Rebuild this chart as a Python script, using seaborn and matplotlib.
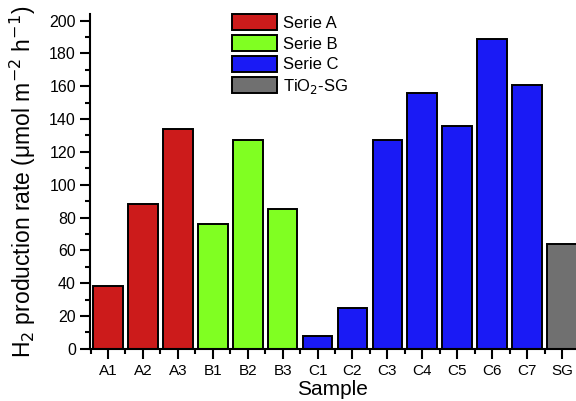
import matplotlib
matplotlib.use("Agg")
import matplotlib.pyplot as plt
import seaborn as sns
import pandas as pd
from matplotlib.ticker import MultipleLocator
from matplotlib.patches import Patch

samples = ["A1", "A2", "A3", "B1", "B2", "B3", "C1", "C2", "C3", "C4", "C5", "C6", "C7", "SG"]
rates = [38, 88, 134, 76, 127, 85, 8, 25, 127, 156, 136, 189, 161, 64]
series = ["Serie A"] * 3 + ["Serie B"] * 3 + ["Serie C"] * 7 + ["TiO$_2$-SG"]
series_names = ["Serie A", "Serie B", "Serie C", "TiO$_2$-SG"]
colors = ["#CC1B1B", "#80FF22", "#1A1AF5", "#707070"]

df = pd.DataFrame({"Sample": samples, "Rate": rates, "Series": series})

sns.set_style("ticks", {"axes.edgecolor": "black", "text.color": "black",
                        "xtick.color": "black", "ytick.color": "black",
                        "axes.labelcolor": "black"})
plt.rcParams["font.family"] = ["Liberation Sans", "DejaVu Sans"]

fig = plt.figure(figsize=(5.76, 4.01), dpi=100)
ax = fig.add_axes([0.156, 0.13, 0.844, 0.835])

sns.barplot(data=df, x="Sample", y="Rate", hue="Series", hue_order=series_names,
            palette=dict(zip(series_names, colors)), dodge=False, width=0.85,
            saturation=1, edgecolor="black", linewidth=1.4, ax=ax, legend=False)

ax.set_xlim(-0.52, 13.4)
ax.set_ylim(0, 204)
ax.yaxis.set_major_locator(MultipleLocator(20))
ax.yaxis.set_minor_locator(MultipleLocator(10))
ax.xaxis.set_minor_locator(MultipleLocator(0.5))
for s in ["top", "right"]:
    ax.spines[s].set_visible(False)
for s in ["left", "bottom"]:
    ax.spines[s].set_linewidth(1.5)
ax.tick_params(which="major", length=7, width=1.5, labelsize=11.5, direction="out", pad=3)
ax.tick_params(which="minor", length=3.5, width=1.5, direction="out")
ax.tick_params(axis="x", which="major", pad=4, labelsize=11)

ax.set_xlabel("Sample", fontsize=15, labelpad=1)
ax.set_ylabel("H$_2$ production rate (μmol m$^{-2}$ h$^{-1}$)", fontsize=16.5, labelpad=8)

handles = [Patch(facecolor=c, edgecolor="black", linewidth=1.4, label=n)
           for n, c in zip(series_names, colors)]
ax.legend(handles=handles, loc="upper left", bbox_to_anchor=(0.278, 1.02), frameon=False,
          fontsize=12, handlelength=2.7, handleheight=1.1, labelspacing=0.25,
          handletextpad=0.4, borderaxespad=0)

fig.savefig("out.png", dpi=100)
